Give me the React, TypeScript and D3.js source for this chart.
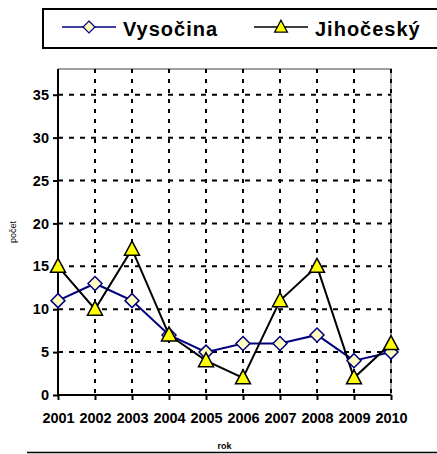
import React, { useEffect, useRef } from "react";
import * as d3 from "d3";

// data
const years = ["2001", "2002", "2003", "2004", "2005", "2006", "2007", "2008", "2009", "2010"];
const vysocina = [11, 13, 11, 7, 5, 6, 6, 7, 4, 5];
const jihocesky = [15, 10, 17, 7, 4, 2, 11, 15, 2, 6];
const yTicks = [0, 5, 10, 15, 20, 25, 30, 35];
const seriesNames = ["Vysočina", "Jihočeský"];

const FONT = "'Liberation Sans', Arial, sans-serif";

export default function App() {
  const ref = useRef<SVGSVGElement>(null);

  useEffect(() => {
    const svg = d3.select(ref.current);
    svg.selectAll("*").remove();

    const left = 58, right = 391, top = 69, bottom = 395;

    const x = d3.scalePoint<string>().domain(years).range([left, right]);
    const y = d3.scaleLinear().domain([0, 38]).range([bottom, top]);

    // frame (top + right in gray)
    svg.append("path")
      .attr("d", `M${left},${top}H${right}V${bottom}`)
      .attr("fill", "none")
      .attr("stroke", "#808080")
      .attr("stroke-width", 1.5);

    // horizontal grid
    svg.append("g").selectAll("line")
      .data(yTicks.filter(d => d > 0))
      .enter()
      .append("line")
      .attr("x1", left).attr("x2", right)
      .attr("y1", d => y(d)).attr("y2", d => y(d))
      .attr("stroke", "black")
      .attr("stroke-width", 2)
      .attr("stroke-dasharray", "5,6");

    // vertical grid
    svg.append("g").selectAll("line")
      .data(years.slice(1))
      .enter()
      .append("line")
      .attr("x1", d => x(d)!).attr("x2", d => x(d)!)
      .attr("y1", top).attr("y2", bottom)
      .attr("stroke", "black")
      .attr("stroke-width", 2)
      .attr("stroke-dasharray", "4,6");

    // y axis
    const yAxis = svg.append("g")
      .attr("transform", `translate(${left},0)`)
      .call(d3.axisLeft(y).tickValues(yTicks).tickSize(5).tickPadding(4));
    yAxis.select(".domain").remove();
    yAxis.selectAll("line").attr("stroke", "black").attr("stroke-width", 2);
    yAxis.selectAll("text")
      .attr("font-family", FONT)
      .attr("font-weight", "bold")
      .attr("font-size", 14.5)
      .attr("fill", "black");

    // x axis
    const xAxis = svg.append("g")
      .attr("transform", `translate(0,${bottom})`)
      .call(d3.axisBottom(x).tickSize(5).tickPadding(13));
    xAxis.select(".domain").remove();
    xAxis.selectAll("line").attr("stroke", "black").attr("stroke-width", 2);
    xAxis.selectAll("text")
      .attr("font-family", FONT)
      .attr("font-weight", "bold")
      .attr("font-size", 14.5)
      .attr("fill", "black");

    // axis lines
    svg.append("line")
      .attr("x1", left).attr("x2", left).attr("y1", top).attr("y2", bottom + 1)
      .attr("stroke", "black").attr("stroke-width", 2);
    svg.append("line")
      .attr("x1", left - 1).attr("x2", right).attr("y1", bottom).attr("y2", bottom)
      .attr("stroke", "black").attr("stroke-width", 2);

    // lines
    const line = d3.line<number>()
      .x((d, i) => x(years[i])!)
      .y(d => y(d));

    svg.append("path")
      .datum(vysocina)
      .attr("d", line)
      .attr("fill", "none")
      .attr("stroke", "#000080")
      .attr("stroke-width", 2);

    svg.append("path")
      .datum(jihocesky)
      .attr("d", line)
      .attr("fill", "none")
      .attr("stroke", "black")
      .attr("stroke-width", 2);

    const diamond = "M0,-7L7,0L0,7L-7,0Z";
    const triangle = "M0,-8L7.5,6L-7.5,6Z";

    svg.append("g").selectAll("path")
      .data(vysocina)
      .enter()
      .append("path")
      .attr("d", diamond)
      .attr("transform", (d, i) => `translate(${x(years[i])},${y(d)})`)
      .attr("fill", "#FFFFC0")
      .attr("stroke", "#000080")
      .attr("stroke-width", 1.5);

    svg.append("g").selectAll("path")
      .data(jihocesky)
      .enter()
      .append("path")
      .attr("d", triangle)
      .attr("transform", (d, i) => `translate(${x(years[i])},${y(d)})`)
      .attr("fill", "#FFFF00")
      .attr("stroke", "black")
      .attr("stroke-width", 1.5);

    // axis titles
    svg.append("text")
      .attr("transform", "translate(14,232) rotate(-90)")
      .attr("text-anchor", "middle")
      .attr("dominant-baseline", "middle")
      .attr("font-family", FONT)
      .attr("font-size", 9)
      .text("počet");

    svg.append("text")
      .attr("x", (left + right) / 2)
      .attr("y", 449)
      .attr("text-anchor", "middle")
      .attr("font-family", FONT)
      .attr("font-weight", "bold")
      .attr("font-size", 9)
      .text("rok");

    svg.append("line")
      .attr("x1", 27).attr("x2", 437).attr("y1", 452.5).attr("y2", 452.5)
      .attr("stroke", "black").attr("stroke-width", 1.5);

    // legend
    svg.append("rect")
      .attr("x", 43).attr("y", 9).attr("width", 400).attr("height", 39)
      .attr("fill", "white")
      .attr("stroke", "black")
      .attr("stroke-width", 2);

    const legendItems = [
      { name: seriesNames[0], x0: 62, color: "#000080", marker: diamond, fill: "#FFFFC0" },
      { name: seriesNames[1], x0: 254, color: "black", marker: triangle, fill: "#FFFF00" },
    ];
    const lg = svg.append("g").selectAll("g")
      .data(legendItems)
      .enter()
      .append("g")
      .attr("transform", d => `translate(${d.x0},27)`);
    lg.append("line")
      .attr("x1", 0).attr("x2", 54).attr("y1", 0).attr("y2", 0)
      .attr("stroke", d => d.color).attr("stroke-width", 1.5);
    lg.append("path")
      .attr("d", d => d.marker)
      .attr("transform", "translate(27,0) scale(0.85)")
      .attr("fill", d => d.fill)
      .attr("stroke", d => d.color)
      .attr("stroke-width", 1.5);
    lg.append("text")
      .attr("x", 61)
      .attr("y", 8.5)
      .attr("font-family", FONT)
      .attr("font-weight", "bold")
      .attr("font-size", 20)
      .attr("letter-spacing", 1)
      .text(d => d.name);
  }, []);

  return (
    <svg
      ref={ref}
      width={437}
      height={454}
      style={{ position: "absolute", left: 0, top: 0, background: "white" }}
    />
  );
}
